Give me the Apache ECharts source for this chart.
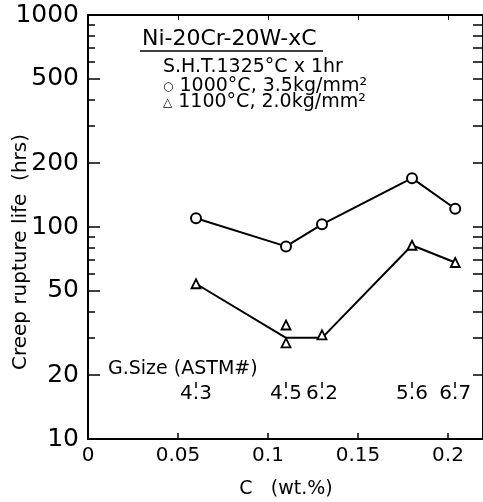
<!DOCTYPE html>
<html>
<head>
<meta charset="utf-8">
<script src="https://cdn.jsdelivr.net/npm/echarts@6/dist/echarts.min.js"></script>
<style>
  html, body { margin: 0; padding: 0; background: #fff; }
  #chart { width: 483px; height: 502px; }
</style>
</head>
<body>
<div id="chart"></div>
<script>
// carbon content (wt.%) of the five alloys
var carbon = [0.06, 0.11, 0.13, 0.18, 0.204];
// 1000C, 3.5 kg/mm2 rupture life (hrs)
var life1000 = [110, 81, 103, 170, 122];
// 1100C, 2.0 kg/mm2 : line through the points and the measured points
var line1100 = [54, 30, 30, 82, 68];
var pts1100X = [0.06, 0.11, 0.11, 0.13, 0.18, 0.204];
var pts1100Y = [54, 34.5, 28.4, 31, 82, 68];
// grain size (ASTM #) for each alloy
var grainSize = ['4.3', '4.5', '6.2', '5.6', '6.7'];
// y axis labels and all log ticks
var yLabels = [10, 20, 50, 100, 200, 500, 1000];
var yAll = [10, 20, 30, 40, 50, 60, 70, 80, 90, 100, 200, 300, 400, 500, 600, 700, 800, 900, 1000];

var font = 'DejaVu Sans';
var chart = echarts.init(document.getElementById('chart'));

function pairs(xs, ys) {
    return xs.map(function (x, i) { return [x, ys[i]]; });
}

var box = { left: 88, top: 15, width: 396, height: 424, outerBoundsMode: 'none', containLabel: false };
function blackTick(w) { return { color: '#000', width: w }; }
function axisLine() { return { show: true, onZero: false, lineStyle: blackTick(2) }; }
// empty labels: keeps the tick list of a label-less axis alive
function blankLabels(vals) {
    return { show: true, customValues: vals, fontSize: 1, color: 'rgba(0,0,0,0)', formatter: function () { return ''; } };
}

var option = {
    backgroundColor: '#fff',
    animation: false,
    textStyle: { fontFamily: font, color: '#000' },
    grid: [
        echarts.util.clone(box),
        echarts.util.clone(box),
        { left: box.left, top: 378, width: box.width, height: 4, outerBoundsMode: 'none', containLabel: false },
        // thin grid sitting on the right frame, its left axis draws the right-hand ticks
        { left: 483, top: box.top, width: 1, height: box.height, outerBoundsMode: 'none', containLabel: false }
    ],
    xAxis: [{
        gridIndex: 0, type: 'value', position: 'bottom',
        min: 0, max: 0.22, interval: 0.05,
        name: 'C   (wt.%)', nameLocation: 'middle', nameGap: 41,
        nameTextStyle: { fontSize: 19, color: '#000', fontFamily: font },
        axisLine: axisLine(),
        axisTick: { inside: true, length: 6, lineStyle: blackTick(1.5) },
        axisLabel: {
            fontSize: 20, color: '#000', margin: 7,
            formatter: function (v) { return v > 0.21 ? '' : String(+v.toFixed(2)); }
        },
        splitLine: { show: false }
    }, {
        gridIndex: 0, type: 'value', position: 'top',
        min: 0, max: 0.22, interval: 0.05,
        axisLine: axisLine(),
        axisTick: { inside: true, length: 5, lineStyle: blackTick(1) },
        axisLabel: { show: false },
        splitLine: { show: false }
    }, {
        gridIndex: 1, type: 'value', min: 0, max: 0.22, show: false
    }, {
        gridIndex: 2, type: 'value', position: 'bottom', min: 0, max: 0.22,
        axisLine: { show: false, onZero: false },
        axisTick: { show: true, length: 6, customValues: carbon, lineStyle: blackTick(1.5) },
        axisLabel: {
            customValues: carbon, fontSize: 20, color: '#000', margin: 2,
            formatter: function (v) {
                var i = carbon.indexOf(v);
                return i >= 0 ? grainSize[i] : '';
            }
        },
        splitLine: { show: false }
    }, {
        gridIndex: 3, type: 'value', min: 0, max: 1, show: false
    }],
    yAxis: [{
        gridIndex: 0, type: 'log', logBase: 10, min: 10, max: 1000, position: 'left',
        axisLine: axisLine(),
        axisTick: { show: true, inside: true, length: 7, customValues: yAll, lineStyle: blackTick(1.5) },
        axisLabel: {
            customValues: yLabels, fontSize: 25, color: '#000', margin: 9,
            formatter: function (v) { return String(v); }
        },
        splitLine: { show: false }
    }, {
        // longer ticks at the labelled values on the left side
        gridIndex: 1, type: 'log', logBase: 10, min: 10, max: 1000, position: 'left',
        axisLine: { show: false, onZero: false },
        axisTick: { show: true, inside: true, length: 12, customValues: yLabels, lineStyle: blackTick(1.5) },
        axisLabel: blankLabels(yLabels),
        splitLine: { show: false }
    }, {
        gridIndex: 2, type: 'value', show: false
    }, {
        // right-hand frame: ticks point left, into the plot
        gridIndex: 3, type: 'log', logBase: 10, min: 10, max: 1000, position: 'left',
        axisLine: axisLine(),
        axisTick: { show: true, inside: false, length: 10, customValues: yAll, lineStyle: blackTick(1.5) },
        axisLabel: blankLabels(yAll),
        splitLine: { show: false }
    }],
    series: [{
        type: 'line', xAxisIndex: 0, yAxisIndex: 0,
        data: pairs(carbon, life1000),
        symbol: 'circle', symbolSize: 10,
        lineStyle: { color: '#000', width: 2 },
        itemStyle: { color: '#fff', borderColor: '#000', borderWidth: 2 },
        z: 3
    }, {
        type: 'line', xAxisIndex: 0, yAxisIndex: 0,
        data: pairs(carbon, line1100),
        showSymbol: false, symbol: 'none',
        lineStyle: { color: '#000', width: 2 },
        z: 2
    }, {
        type: 'scatter', xAxisIndex: 0, yAxisIndex: 0,
        data: pairs(pts1100X, pts1100Y),
        symbol: 'triangle', symbolSize: 9,
        itemStyle: { color: '#fff', borderColor: '#000', borderWidth: 1.8, opacity: 1 },
        z: 4
    }],
    graphic: [
        { type: 'text', left: 142, top: 28, style: { text: 'Ni-20Cr-20W-xC', fontFamily: font, fontSize: 22, fill: '#000' } },
        { type: 'line', shape: { x1: 140, y1: 51, x2: 323, y2: 51 }, style: { stroke: '#000', lineWidth: 1.5 } },
        { type: 'text', left: 163, top: 58, style: { text: 'S.H.T.1325°C x 1hr', fontFamily: font, fontSize: 19, fill: '#000' } },
        { type: 'text', left: 163, top: 77, style: {
            text: '{s|○} 1000°C, 3.5kg/mm²', fontFamily: font, fontSize: 19, fill: '#000',
            rich: { s: { fontFamily: font, fontSize: 12, fill: '#000' } } } },
        { type: 'text', left: 163, top: 93, style: {
            text: '{s|△} 1100°C, 2.0kg/mm²', fontFamily: font, fontSize: 19, fill: '#000',
            rich: { s: { fontFamily: font, fontSize: 12, fill: '#000' } } } },
        { type: 'text', left: 108, top: 360, style: { text: 'G.Size (ASTM#)', fontFamily: font, fontSize: 19, fill: '#000' } },
        { type: 'text', x: 21, y: 252, rotation: Math.PI / 2, style: {
            text: 'Creep rupture life  (hrs)', fontFamily: font, fontSize: 20, fill: '#000',
            align: 'center', verticalAlign: 'middle' } }
    ]
};

chart.setOption(option);
</script>
</body>
</html>
